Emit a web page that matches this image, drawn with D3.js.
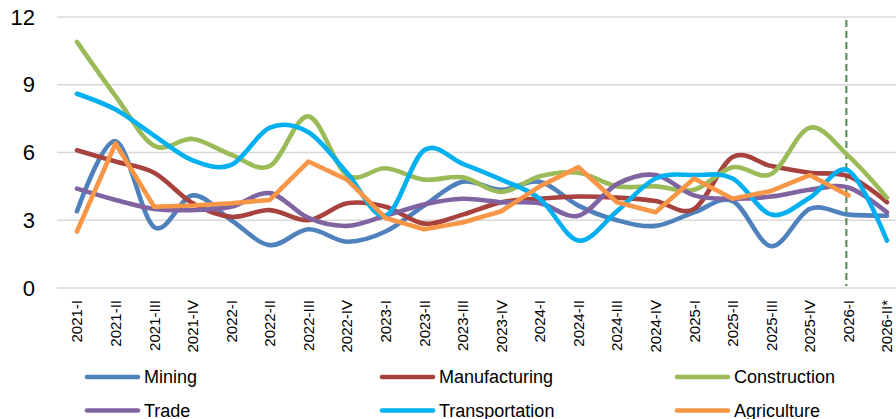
<!DOCTYPE html>
<html>
<head>
<meta charset="utf-8">
<script src="https://cdn.jsdelivr.net/npm/d3@7"></script>
<style>
  html, body { margin: 0; padding: 0; background: #fff; }
  svg { display: block; }
  text { font-family: "Liberation Sans", Arial, sans-serif; fill: #000; }
</style>
</head>
<body>
<svg id="chart" width="896" height="419"></svg>
<script>
const categories = ["2021-I","2021-II","2021-III","2021-IV","2022-I","2022-II","2022-III","2022-IV","2023-I","2023-II","2023-III","2023-IV","2024-I","2024-II","2024-III","2024-IV","2025-I","2025-II","2025-III","2025-IV","2026-I","2026-II*"];
const yTicks = [0, 3, 6, 9, 12];
const seriesNames = ["Mining","Manufacturing","Construction","Trade","Transportation","Agriculture"];
const mining         = [3.4, 6.5, 2.7, 4.1, 3.0, 1.9, 2.6, 2.05, 2.5, 3.65, 4.7, 4.35, 4.7, 3.65, 3.0, 2.75, 3.35, 3.85, 1.85, 3.5, 3.25, 3.2];
const manufacturing  = [6.1, 5.6, 5.1, 3.75, 3.15, 3.45, 3.0, 3.75, 3.6, 2.85, 3.25, 3.8, 3.95, 4.05, 4.0, 3.85, 3.5, 5.8, 5.4, 5.1, 4.95, 3.8];
const construction   = [10.9, 8.5, 6.3, 6.6, 5.9, 5.4, 7.6, 5.0, 5.3, 4.8, 4.9, 4.25, 4.95, 5.1, 4.5, 4.5, 4.35, 5.35, 5.05, 7.1, 5.85, 4.0];
const trade          = [4.4, 3.9, 3.5, 3.45, 3.6, 4.2, 3.1, 2.75, 3.2, 3.7, 3.95, 3.8, 3.75, 3.2, 4.6, 5.0, 4.1, 3.95, 4.05, 4.35, 4.45, 3.35];
const transportation = [8.6, 7.9, 6.75, 5.65, 5.45, 7.1, 6.9, 5.1, 3.2, 6.1, 5.5, 4.8, 3.95, 2.1, 3.4, 4.85, 5.0, 4.85, 3.25, 4.0, 5.2, 2.1];
const agriculture    = [2.5, 6.4, 3.6, 3.65, 3.75, 3.9, 5.6, 4.8, 3.1, 2.6, 2.9, 3.4, 4.5, 5.35, 3.8, 3.35, 4.85, 3.95, 4.3, 5.0, 4.1];
const forecastStart = "2026-I";

const colors = ["#4F81BD","#A8423F","#9BBB59","#8064A2","#00B0F0","#F79646"];
const smooth = [true, true, true, true, true, false];
const allValues = [mining, manufacturing, construction, trade, transportation, agriculture];

const svg = d3.select("#chart");
const x = d3.scaleBand().domain(categories).range([57.7, 57.7 + 22 * 38.57]);
const y = d3.scaleLinear().domain([0, 12]).range([288, 17]);
const cx = c => x(c) + x.bandwidth() / 2;

// gridlines
svg.append("g").selectAll("line").data(yTicks).join("line")
  .attr("x1", 57).attr("x2", 900)
  .attr("y1", d => y(d)).attr("y2", d => y(d))
  .attr("stroke", "#D9D9D9").attr("stroke-width", 1.6);

// y labels
svg.append("g").selectAll("text").data(yTicks).join("text")
  .attr("x", 35).attr("y", d => y(d))
  .attr("text-anchor", "end").attr("dominant-baseline", "central")
  .style("font-size", "22px").text(d => d);

// x labels
svg.append("g").selectAll("text").data(categories).join("text")
  .attr("transform", d => `translate(${cx(d)},300) rotate(-90)`)
  .attr("text-anchor", "end").attr("dominant-baseline", "central")
  .style("font-size", "15px").text(d => d);

// forecast dashed line
svg.append("line")
  .attr("x1", cx(forecastStart) - 2).attr("x2", cx(forecastStart) - 2)
  .attr("y1", 20).attr("y2", 286)
  .attr("stroke", "#4E8A4E").attr("stroke-width", 2)
  .attr("stroke-dasharray", "7,4");

// series
allValues.forEach((vals, i) => {
  const line = d3.line()
    .x((d, j) => cx(categories[j]))
    .y(d => y(d))
    .curve(smooth[i] ? d3.curveCardinal.tension(0) : d3.curveLinear);
  svg.append("path").datum(vals)
    .attr("d", line)
    .attr("fill", "none")
    .attr("stroke", colors[i])
    .attr("stroke-width", 4.6)
    .attr("stroke-linejoin", "round")
    .attr("stroke-linecap", "round");
});

// legend
const legCols = [85, 380, 675];
const legRows = [377, 410.5];
seriesNames.forEach((name, i) => {
  const lx = legCols[i % 3], ly = legRows[Math.floor(i / 3)];
  svg.append("line")
    .attr("x1", lx + 2).attr("x2", lx + 53)
    .attr("y1", ly).attr("y2", ly)
    .attr("stroke", colors[i]).attr("stroke-width", 4.6)
    .attr("stroke-linecap", "round");
  svg.append("text")
    .attr("x", lx + 59).attr("y", ly)
    .attr("dominant-baseline", "central")
    .style("font-size", "18px").text(name);
});
</script>
</body>
</html>
